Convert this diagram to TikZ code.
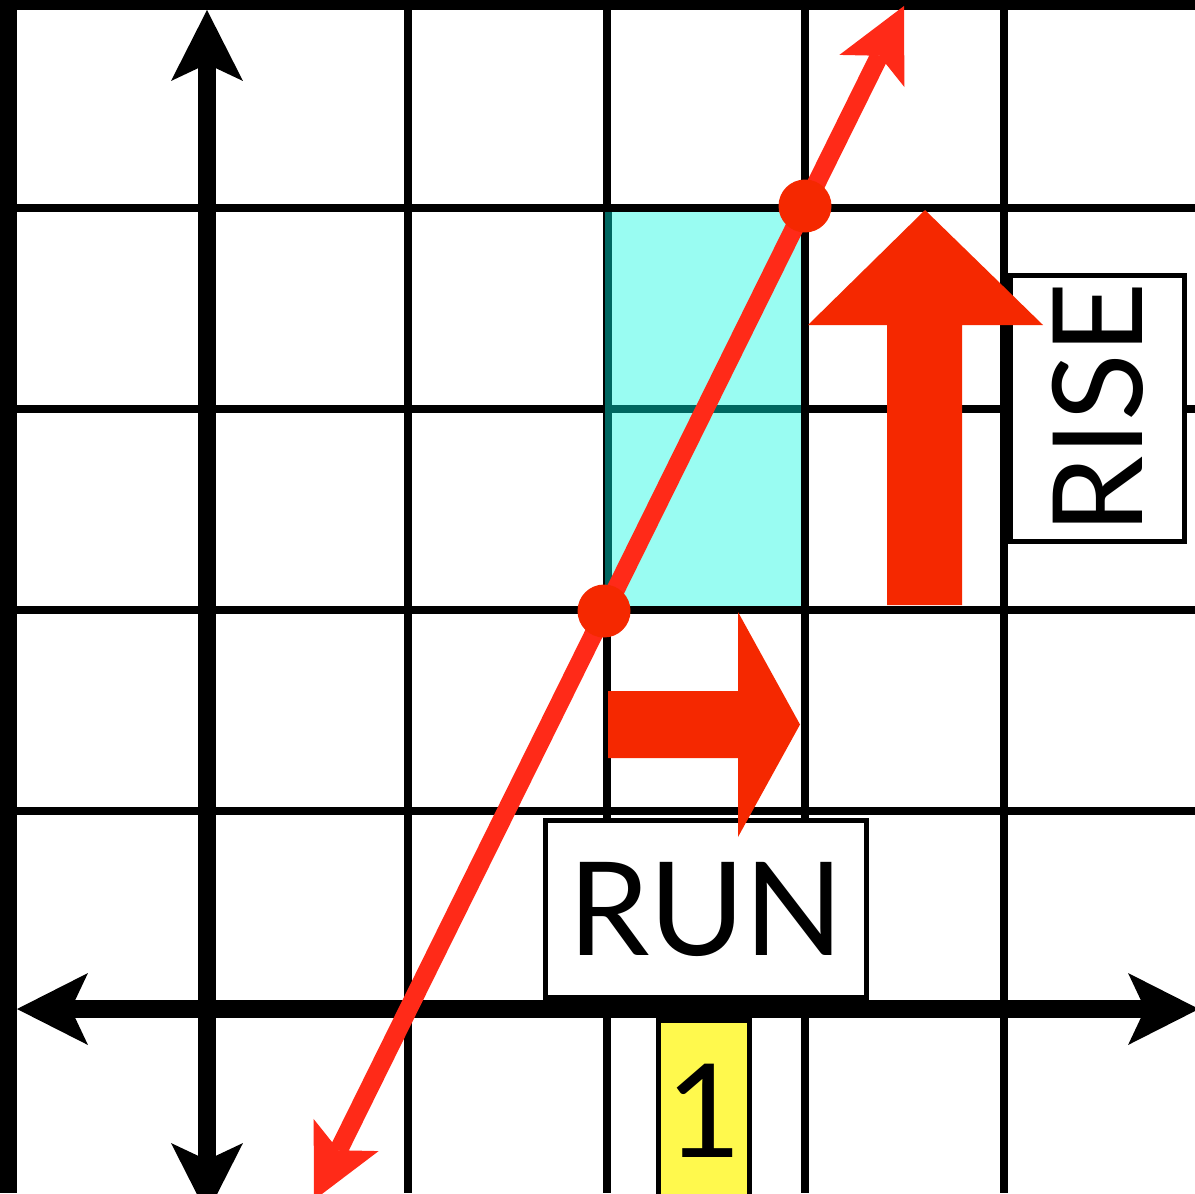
\documentclass[tikz,border=0pt]{standalone}
\usepackage{fontspec}
\setmainfont{Lato}
\usetikzlibrary{arrows.meta}
\definecolor{myred}{HTML}{F52800}
\definecolor{linered}{HTML}{FF2A18}
\definecolor{cyanfill}{HTML}{99FCF2}
\definecolor{tealline}{HTML}{006660}
\definecolor{yellowfill}{HTML}{FFF94D}
\begin{document}
\begin{tikzpicture}[x=0.02cm,y=-0.02cm,
  gridline/.style={line width=0.16cm, black},
  borderline/.style={black},
  axistip/.tip={Stealth[length=1.42cm,width=1.44cm,inset=0.34cm,line width=0pt]},
  axisline/.style={line width=0.36cm, black, {axistip}-{axistip}},
  redtip/.tip={Stealth[length=1.45cm,width=1.45cm,inset=0.34cm,line width=0pt]},
  redline/.style={line width=0.37cm, linered, {redtip}-{redtip}},
  reddot/.style={circle, fill=myred, minimum size=1.06cm, inner sep=0pt},
  bigarrow/.style={fill=myred, draw=none},
  labelbox/.style={draw=black, line width=0.1cm, fill=white, inner sep=0pt,
    font=\fontsize{74pt}{74pt}\selectfont, text height=1.86cm, text depth=0pt},
]
\useasboundingbox (0,0) rectangle (1195,1193);
\fill[white] (0,0) rectangle (1195,1193);
% grid
\foreach \gx in {408,607,805,1003.5} \draw[gridline] (\gx,0) -- (\gx,1193);
\foreach \gy in {208,409,610,811} \draw[gridline] (0,\gy) -- (1195,\gy);
\draw[borderline, line width=0.34cm] (8.5,0) -- (8.5,1193);
\draw[borderline, line width=0.2cm] (0,5) -- (1195,5);
% axes
\coordinate (yb) at (207,1214);
\coordinate (yt) at (207,10);
\coordinate (xl) at (17,1009);
\coordinate (xr) at (1199,1009);
\draw[axisline] (yb) -- (yt);
\draw[axisline] (xl) -- (xr);
% shaded rectangle
\fill[cyanfill] (605,212) rectangle (801,606);
\draw[tealline, line width=0.16cm] (605,409) -- (801,409);
\draw[tealline, line width=0.14cm] (608.5,212) -- (608.5,606);
% label boxes
\node[labelbox, minimum width=6.44cm, minimum height=3.54cm] (run) at (706,909) {RUN};
\node[labelbox, rotate=90, minimum width=5.34cm, minimum height=3.48cm, font=\fontsize{71pt}{71pt}\selectfont, text height=1.8cm] (rise) at (1097,408.5) {RISE};
\node[labelbox, fill=yellowfill, minimum width=1.82cm, minimum height=3.6cm] (one) at (704,1110.5) {1};
% rise and run arrows
\fill[bigarrow] (887,605) -- (887,325) -- (808,325) -- (925,210) -- (1043,325) -- (962,325) -- (962,605) -- cycle;
\fill[bigarrow] (608,691) -- (738,691) -- (738,612) -- (800,724.5) -- (738,837) -- (738,758) -- (608,758) -- cycle;
% red line with points
\coordinate (lb) at (314,1200);
\coordinate (lt) at (904,6);
\draw[redline] (lb) -- (lt);
\node[reddot] (p1) at (604,611) {};
\node[reddot] (p2) at (805,206) {};
\end{tikzpicture}
\end{document}
